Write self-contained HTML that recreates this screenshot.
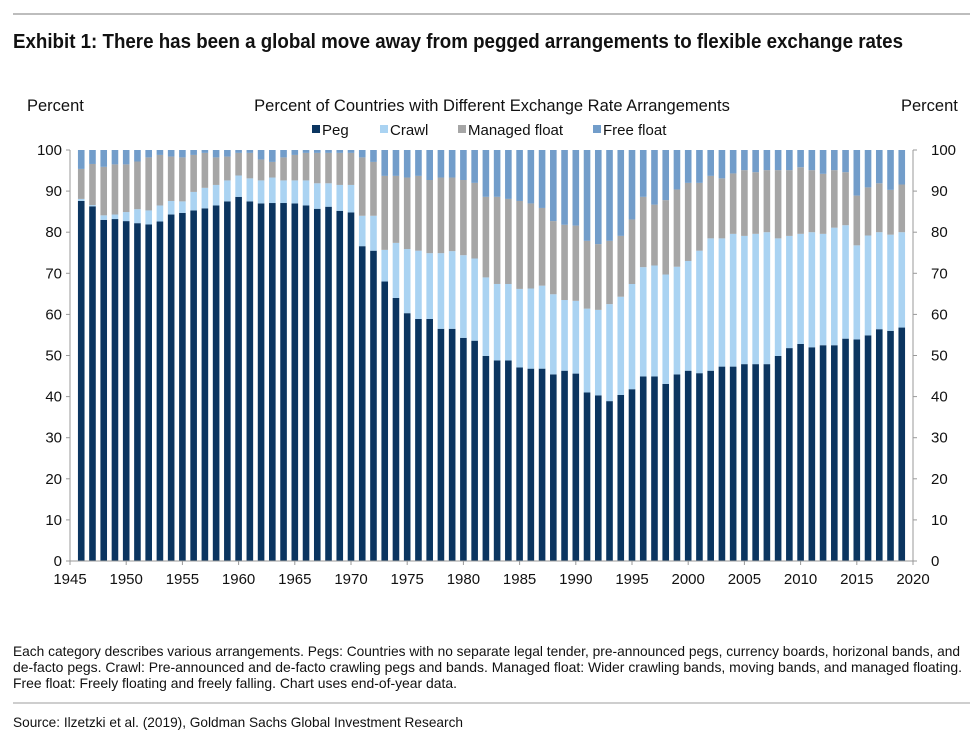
<!DOCTYPE html>
<html><head><meta charset="utf-8"><style>
html,body{margin:0;padding:0;background:#fff;}
svg{display:block;}
text{font-family:"Liberation Sans",sans-serif;fill:#111;}
.n{font-family:"Liberation Sans Narrow","Liberation Sans",sans-serif;}
</style></head><body>
<svg id="chart" width="972" height="735" viewBox="0 0 972 735">
<line x1="13" y1="14" x2="970" y2="14" stroke="#bdbdbd" stroke-width="2"/>
<text class="n" x="13" y="48" font-size="20" font-weight="bold" textLength="890" lengthAdjust="spacingAndGlyphs" fill="#222">Exhibit 1: There has been a global move away from pegged arrangements to flexible exchange rates</text>
<text x="27" y="111" font-size="16.5">Percent</text>
<text x="901" y="111" font-size="16.5">Percent</text>
<text x="492" y="111" font-size="16.5" text-anchor="middle">Percent of Countries with Different Exchange Rate Arrangements</text>
<g id="legend"></g>
<g id="bars"></g>
<g id="axes"></g>
<g font-size="14">
<text class="n" x="13" y="656" font-size="14" textLength="947" lengthAdjust="spacingAndGlyphs">Each category describes various arrangements. Pegs: Countries with no separate legal tender, pre-announced pegs, currency boards, horizonal bands, and</text>
<text class="n" x="13" y="672" font-size="14" textLength="949" lengthAdjust="spacingAndGlyphs">de-facto pegs. Crawl: Pre-announced and de-facto crawling pegs and bands. Managed float: Wider crawling bands, moving bands, and managed floating.</text>
<text class="n" x="13" y="688" font-size="14" textLength="444" lengthAdjust="spacingAndGlyphs">Free float: Freely floating and freely falling. Chart uses end-of-year data.</text>
</g>
<line x1="13" y1="703" x2="970" y2="703" stroke="#bdbdbd" stroke-width="1.5"/>
<text class="n" x="13" y="727" font-size="14" textLength="450" lengthAdjust="spacingAndGlyphs">Source: Ilzetzki et al. (2019), Goldman Sachs Global Investment Research</text>
</svg>
<script>
const years = [];
for (let y = 1946; y <= 2019; y++) years.push(y);
const peg = [87.6,86.3,83.0,83.2,82.7,82.2,81.9,82.6,84.3,84.7,85.3,85.8,86.5,87.5,88.6,87.5,87.0,87.1,87.1,87.0,86.5,85.7,86.2,85.2,84.8,76.6,75.5,68.0,64.0,60.3,58.9,58.9,56.5,56.5,54.3,53.6,49.9,48.8,48.8,47.1,46.8,46.8,45.4,46.3,45.6,41.0,40.3,38.9,40.4,41.8,44.9,44.9,43.1,45.4,46.3,45.7,46.3,47.3,47.3,47.9,47.9,47.9,49.9,51.8,52.8,52.0,52.5,52.5,54.1,53.9,54.9,56.4,56.0,56.8];
const crawl = [0.5,0.3,1.1,1.1,2.2,3.4,3.4,3.9,3.3,2.8,4.5,5.0,5.0,5.1,5.2,5.6,5.6,6.2,5.5,5.6,6.1,6.2,5.7,6.3,6.7,7.4,8.5,7.7,13.4,15.6,16.6,16.0,18.4,18.9,20.1,20.0,19.1,18.6,18.6,19.1,19.5,20.2,19.5,17.2,17.7,20.4,20.8,23.6,23.9,25.6,26.6,27.0,26.6,26.2,26.7,29.8,32.2,31.2,32.3,31.2,31.7,32.1,28.6,27.3,26.8,28.0,27.1,28.6,27.6,22.9,24.3,23.6,23.4,23.2];
const managed = [7.3,10.0,11.8,12.2,11.6,11.6,12.9,12.3,10.8,10.7,9.0,8.5,6.7,5.8,5.5,6.2,5.1,3.8,5.6,6.2,6.7,7.4,7.4,7.8,7.8,14.2,13.1,18.0,16.3,17.4,18.2,17.8,18.4,17.9,18.3,18.4,19.6,21.2,20.7,21.4,20.7,18.9,17.8,18.3,18.3,16.5,16.0,15.4,14.8,15.7,17.1,14.8,18.1,18.8,19.0,16.5,15.2,14.6,14.7,16.0,15.0,15.1,16.6,16.0,16.2,15.1,14.6,14.0,12.9,12.1,11.7,11.9,10.9,11.6];
const free = [4.6,3.4,4.1,3.5,3.5,2.8,1.8,1.2,1.6,1.8,1.2,0.7,1.8,1.6,0.7,0.7,2.3,2.9,1.8,1.2,0.7,0.7,0.7,0.7,0.7,1.8,2.9,6.3,6.3,6.7,6.3,7.3,6.7,6.7,7.3,8.0,11.4,11.4,11.9,12.4,13.0,14.1,17.3,18.2,18.4,22.1,22.9,22.1,20.9,16.9,11.4,13.3,12.2,9.6,8.0,8.0,6.3,6.9,5.7,4.9,5.4,4.9,4.9,4.9,4.2,4.9,5.8,4.9,5.4,11.1,9.1,8.1,9.7,8.4];
const seriesNames = ["Peg","Crawl","Managed float","Free float"];
const yTicks = [0,10,20,30,40,50,60,70,80,90,100];
const xTicks = [1945,1950,1955,1960,1965,1970,1975,1980,1985,1990,1995,2000,2005,2010,2015,2020];

const colors = ["#0b3560","#aad3f2","#a6a6a6","#729dca"];
const NS = "http://www.w3.org/2000/svg";
const X0 = 70, X1 = 913, Y0 = 561, Y1 = 150;
const xScale = yr => X0 + (yr - 1945) / 75 * (X1 - X0);
const yScale = v => Y0 - v / 100 * (Y0 - Y1);
function mk(tag, attrs, parent) { const e = document.createElementNS(NS, tag); for (const k in attrs) e.setAttribute(k, attrs[k]); parent.appendChild(e); return e; }

const barsG = document.getElementById('bars');
const data = [peg, crawl, managed, free];
const bw = 6.6;
years.forEach((yr, i) => {
  let base = 0;
  data.forEach((s, si) => {
    const v = s[i];
    const r = mk('rect', {x: (xScale(yr) - bw/2).toFixed(2), y: yScale(base + v).toFixed(2), width: bw, height: (yScale(base) - yScale(base + v)).toFixed(2), fill: colors[si]}, barsG);
    
    
    base += v;
  });
});

const ax = document.getElementById('axes');
const la = mk('line', {x1: X0, y1: Y1, x2: X0, y2: Y0, stroke: '#999', 'stroke-width': 1}, ax);


const ra = mk('line', {x1: X1, y1: Y1, x2: X1, y2: Y0, stroke: '#999', 'stroke-width': 1}, ax);


const ba = mk('line', {x1: X0, y1: Y0, x2: X1, y2: Y0, stroke: '#999', 'stroke-width': 1}, ax);


yTicks.forEach(t => {
  const y = yScale(t);
  mk('line', {x1: X0 - 4, y1: y, x2: X0, y2: y, stroke: '#999'}, ax);
  mk('line', {x1: X1, y1: y, x2: X1 + 4, y2: y, stroke: '#999'}, ax);
  const a = mk('text', {x: 62, y: y + 5, 'font-size': 15, 'text-anchor': 'end'}, ax);
  a.textContent = t;
  
  
  const b = mk('text', {x: 931, y: y + 5, 'font-size': 15}, ax);
  b.textContent = t;
  
  
});
xTicks.forEach(t => {
  const x = xScale(t);
  mk('line', {x1: x, y1: Y0, x2: x, y2: Y0 + 4, stroke: '#999'}, ax);
  const a = mk('text', {x: x, y: 584, 'font-size': 15, 'text-anchor': 'middle'}, ax);
  a.textContent = t;
  
  
});

const lg = document.getElementById('legend');
const lx = [312, 380, 458, 593];
seriesNames.forEach((n, i) => {
  const g = mk('g', {}, lg);
  
  
  mk('rect', {x: lx[i], y: 125, width: 8, height: 8, fill: colors[i]}, g);
  const t = mk('text', {x: lx[i] + 10, y: 135, 'font-size': 15}, g);
  t.textContent = n;
});
</script>
</body></html>
